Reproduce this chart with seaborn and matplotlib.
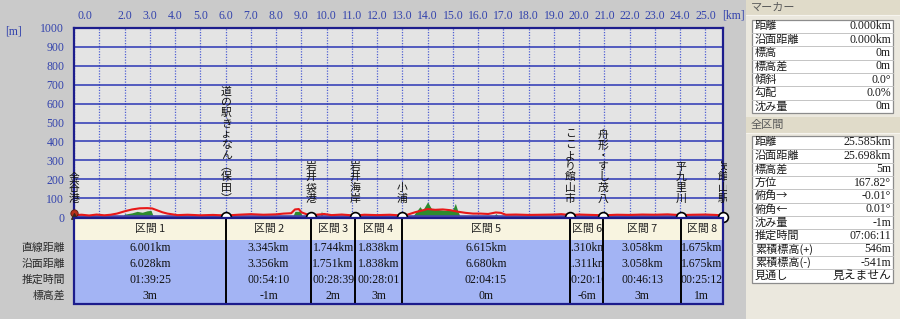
import numpy as np
import pandas as pd
import matplotlib
matplotlib.use("Agg")
import matplotlib.pyplot as plt
import seaborn as sns
from matplotlib.patches import Rectangle
from matplotlib.transforms import blended_transform_factory, ScaledTranslation, Bbox, TransformedBbox

# ---------------- data ----------------
dist_km = [0.0, 0.3, 0.6, 0.9, 1.2, 1.45, 1.7, 2.0, 2.3, 2.6, 2.9, 3.1, 3.3, 3.5, 3.7, 3.9, 4.1,
           4.5, 5.0, 5.5, 6.03, 6.5, 7.0, 7.5, 8.0, 8.3, 8.6, 8.75, 8.9, 9.0, 9.2, 9.39, 9.6,
           9.9, 10.2, 10.6, 11.0, 11.135, 11.5, 12.0, 12.5, 12.97, 13.2, 13.5, 13.8, 14.0, 14.3,
           14.6, 14.9, 15.2, 15.5, 15.8, 16.1, 16.4, 16.7, 16.9, 17.1, 17.5, 18.0, 18.5, 19.0,
           19.3, 19.65, 20.0, 20.5, 20.96, 21.5, 22.0, 22.5, 23.0, 23.5, 24.02, 24.5, 25.0,
           25.4, 25.697]
elev_m = [10, 12, 8, 13, 9, 12, 18, 30, 40, 46, 47, 45, 35, 25, 18, 14, 10,
          12, 9, 11, 8, 12, 15, 12, 14, 18, 20, 40, 42, 25, 15, 10, 12,
          16, 10, 13, 9, 8, 12, 10, 12, 8, 12, 25, 35, 42, 38,
          40, 36, 28, 22, 18, 18, 16, 24, 22, 12, 13, 11, 12, 13,
          15, 10, 13, 11, 9, 12, 11, 13, 12, 14, 10, 12, 13,
          11, 8]
veg_km = [0.0, 1.9, 2.0, 2.3, 2.5, 2.7, 2.9, 3.05, 3.15, 8.65, 8.75, 8.95, 9.05, 9.75, 9.8,
          9.85, 13.4, 13.5, 13.7, 13.8, 14.0, 14.15, 14.4, 14.7, 15.0, 15.1, 15.2, 15.3, 16.6,
          16.7, 16.85, 25.697]
veg_m = [0, 0, 15, 22, 30, 25, 33, 35, 0, 0, 30, 30, 0, 0, 33,
         0, 0, 20, 55, 35, 80, 45, 40, 35, 40, 72, 30, 0, 0,
         18, 0, 0]

point_names = ["金谷港", "道の駅きょなん︵保田︶", "岩井袋港", "岩井海岸", "小浦",
               "ここより館山市", "舟形・すし茂八", "平九里川", "JR館山駅"]
sections = ["区間 1", "区間 2", "区間 3", "区間 4", "区間 5", "区間 6", "区間 7", "区間 8"]
straight_km = ["6.001km", "3.345km", "1.744km", "1.838km", "6.615km", "1.310km", "3.058km", "1.675km"]
surface_km = [6.028, 3.356, 1.751, 1.838, 6.680, 1.311, 3.058, 1.675]
est_time = ["01:39:25", "00:54:10", "00:28:39", "00:28:01", "02:04:15", "00:20:16", "00:46:13", "00:25:12"]
height_diff = ["3m", "-1m", "2m", "3m", "0m", "-6m", "3m", "1m"]
row_labels = ["直線距離", "沿面距離", "推定時間", "標高差"]

km_ticks = list(range(0, 26))
elev_ticks = list(range(0, 1001, 100))

marker_rows = [("距離", "0.000km"), ("沿面距離", "0.000km"), ("標高", "0m"), ("標高差", "0m"),
               ("傾斜", "0.0°"), ("勾配", "0.0%"), ("沈み量", "0m")]
total_rows = [("距離", "25.585km"), ("沿面距離", "25.698km"), ("標高差", "5m"), ("方位", "167.82°"),
              ("俯角→", "-0.01°"), ("俯角←", "0.01°"), ("沈み量", "-1m"), ("推定時間", "07:06:11"),
              ("累積標高(+)", "546m"), ("累積標高(-)", "-541m"), ("見通し", "見えません")]

# ---------------- style ----------------
OUT_BG = "#cacaca"
PLOT_BG = "#e4e4e4"
PANEL_BG = "#ebe8de"
BAR_BG = "#e0dbc9"
NAVY = "#1c1c8c"
BLUE_TXT = "#3343ad"
HEAD_BG = "#f8f4e0"
DATA_BG = "#a3b4f4"

sns.set_theme(style="white")
plt.rcParams["font.family"] = ["Liberation Serif", "Noto Sans CJK JP", "DejaVu Sans"]
JP = ["Noto Sans CJK JP", "DejaVu Sans"]
NUM = ["Liberation Serif", "Noto Sans CJK JP", "DejaVu Sans"]

W, H = 900, 319
def fx(px):
    return px / W
def fy(py):
    return 1 - py / H

fig = plt.figure(figsize=(9.0, 3.19), dpi=100, facecolor=OUT_BG)

total = float(np.sum(surface_km))
bounds = list(np.cumsum(surface_km))
starts = [0.0] + bounds[:-1]

# ---------------- main profile axes ----------------
ax = fig.add_axes([fx(74), fy(217), fx(723) - fx(74), fy(28) - fy(217)])
ax.set_facecolor(PLOT_BG)
ax.set_axisbelow(True)

prof = pd.DataFrame({"km": dist_km, "m": elev_m})
ax.fill_between(veg_km, 0, veg_m, color="#2e8b2e", lw=0, zorder=2)
sns.lineplot(data=prof, x="km", y="m", ax=ax, color="#e81818", lw=1.5, sort=False, zorder=3)

ax.set_xlim(0, total)
ax.set_ylim(0, 1000)
ax.set_xticks(km_ticks)
ax.set_yticks(elev_ticks)
ax.yaxis.grid(True, color="#2a36b4", lw=1.1, ls="-")
ax.xaxis.grid(True, color="#5060d4", lw=0.9, ls=(0, (1, 1.2)))
ax.tick_params(axis="x", bottom=False, labelbottom=False, top=False, labeltop=False)
ax.tick_params(axis="y", left=False, length=0, pad=7, labelsize=8.5, labelcolor=BLUE_TXT)
ax.set_xlabel("")
ax.set_ylabel("")
for lab in ax.get_yticklabels():
    lab.set_fontfamily(NUM)
for s in ["left", "right", "top"]:
    ax.spines[s].set_color(NAVY)
    ax.spines[s].set_linewidth(1.6)
ax.spines["bottom"].set_color("#4848aa")
ax.spines["bottom"].set_linewidth(2.6)

# top km labels
top_tr = blended_transform_factory(ax.transData, ax.transAxes)
for k in km_ticks:
    if k == 1:
        continue
    if k == 0:
        ax.text(k, 1, f"{k:.1f}", transform=top_tr + ScaledTranslation(4 / 100, 12 / 100, fig.dpi_scale_trans),
                ha="left", va="center", fontsize=8.5, color=BLUE_TXT, family=NUM, clip_on=False)
    else:
        ax.text(k, 1, f"{k:.1f}", transform=top_tr + ScaledTranslation(0, 12 / 100, fig.dpi_scale_trans),
                ha="center", va="center", fontsize=8.5, color=BLUE_TXT, family=NUM, clip_on=False)
fig.text(fx(733), fy(16), "[km]", ha="center", va="center", fontsize=8.5, color=BLUE_TXT, family=NUM)
fig.text(fx(13), fy(31), "[m]", ha="center", va="center", fontsize=8.5, color=BLUE_TXT, family=NUM)

# point markers
pts_x = [0.0] + bounds
sns.scatterplot(x=bounds, y=[0] * len(bounds), ax=ax, s=50, color="white", edgecolor="black",
                linewidth=1.2, zorder=6, clip_on=False, legend=False)
# start walker icon
ax.scatter([0], [22], s=28, color="#b8301c", edgecolor="#5a1a10", lw=0.6, zorder=7, clip_on=False)
ax.scatter([0], [4], s=16, marker="^", color="#3a2a20", zorder=7, clip_on=False)

# vertical point names (clipped at the right edge of the chart window)
name_clip = TransformedBbox(Bbox([[0, 0], [fx(727), 1]]), fig.transFigure)
CH = 10.7
for x, name in zip(pts_x, point_names):
    lead = ""
    rest = name
    while rest and rest[0].isascii():
        lead += rest[0]
        rest = rest[1:]
    chars = list(rest)
    n = len(chars)
    for j, ch in enumerate(chars):
        off = 13 + CH / 2 + (n - 1 - j) * CH
        t = ax.text(x, 0, ch, transform=ax.transData + ScaledTranslation(0, off / 100, fig.dpi_scale_trans),
                    ha="center", va="center", fontsize=7.8, family=JP, color="#111111", zorder=5)
        t.set_clip_box(name_clip)
        t.set_clip_on(True)
    if lead:
        off = 13 + n * CH + 7
        t = ax.text(x, 0, lead, transform=ax.transData + ScaledTranslation(0, off / 100, fig.dpi_scale_trans),
                    ha="center", va="center", fontsize=7, family=JP, color="#111111", rotation=-90, zorder=5)
        t.set_clip_box(name_clip)
        t.set_clip_on(True)

# ---------------- section table ----------------
HEAD = 22 / 16
NROW = len(row_labels)
ax_t = fig.add_axes([fx(74), fy(304), fx(723) - fx(74), fy(218) - fy(304)])
ax_t.set_xlim(0, total)
ax_t.set_ylim(HEAD + NROW, 0)
ax_t.axis("off")

cols = [straight_km, [f"{v:.3f}km" for v in surface_km], est_time, height_diff]
for i in range(len(sections)):
    x0, x1 = starts[i], bounds[i]
    ax_t.add_patch(Rectangle((x0, 0), x1 - x0, HEAD, fc=HEAD_BG, ec="none", zorder=1))
    ax_t.add_patch(Rectangle((x0, HEAD), x1 - x0, NROW, fc=DATA_BG, ec="none", zorder=1))
    cb = TransformedBbox(Bbox([[x0, 0], [x1, HEAD + NROW]]), ax_t.transData)
    xc = (x0 + x1) / 2
    t = ax_t.text(xc, HEAD / 2, sections[i], ha="center", va="center", fontsize=7.8, family=JP,
                  color="#222222", zorder=3)
    t.set_clip_box(cb)
    t.set_clip_on(True)
    for j in range(NROW):
        t = ax_t.text(xc, HEAD + j + 0.5, cols[j][i], ha="center", va="center", fontsize=8.5,
                      family=NUM, color="#111111", zorder=3)
        t.set_clip_box(cb)
        t.set_clip_on(True)

ax_t.vlines(bounds[:-1], 0, HEAD + NROW, colors="black", lw=1.4, zorder=4)
ax_t.add_patch(Rectangle((0, 0), total, HEAD + NROW, fill=False, ec=NAVY, lw=1.6, zorder=5, clip_on=False))

lab_tr = blended_transform_factory(fig.transFigure, ax_t.transData)
for j, lab in enumerate(row_labels):
    ax_t.text(fx(65), HEAD + j + 0.5, lab, transform=lab_tr, ha="right", va="center", fontsize=7.8,
              family=JP, color="#2a2a2a", clip_on=False)

# ---------------- right info panel ----------------
axp = fig.add_axes([fx(740), 0, 1 - fx(740), 1])
axp.set_xlim(740, 900)
axp.set_ylim(319, 0)
axp.axis("off")
axp.add_patch(Rectangle((746, 0), 154, 319, fc=PANEL_BG, ec="none"))

def bar(y0, y1, text):
    axp.add_patch(Rectangle((746, y0), 154, y1 - y0, fc=BAR_BG, ec="none"))
    axp.plot([746, 900], [y1, y1], color="#f6f4ee", lw=0.8)
    axp.text(751, (y0 + y1) / 2, text, ha="left", va="center", fontsize=8, family=JP, color="#5a5a5a")

RH = 13.35
def info_table(top, rows):
    n = len(rows)
    axp.add_patch(Rectangle((752, top), 141, RH * n, fc="white", ec="#8c8c8c", lw=0.9))
    for r in range(1, n):
        axp.plot([752, 893], [top + r * RH, top + r * RH], color="#c4c4c4", lw=0.7)
    for r, (k, v) in enumerate(rows):
        yc = top + (r + 0.5) * RH
        axp.text(755, yc, k, ha="left", va="center", fontsize=8, family=JP, color="#1a1a1a")
        axp.text(891, yc, v, ha="right", va="center", fontsize=8.5, family=NUM, color="#1a1a1a")

bar(0, 15, "マーカー")
info_table(19.5, marker_rows)
bar(117, 133, "全区間")
info_table(135.8, total_rows)

fig.savefig("out.png", dpi=100, facecolor=OUT_BG)
